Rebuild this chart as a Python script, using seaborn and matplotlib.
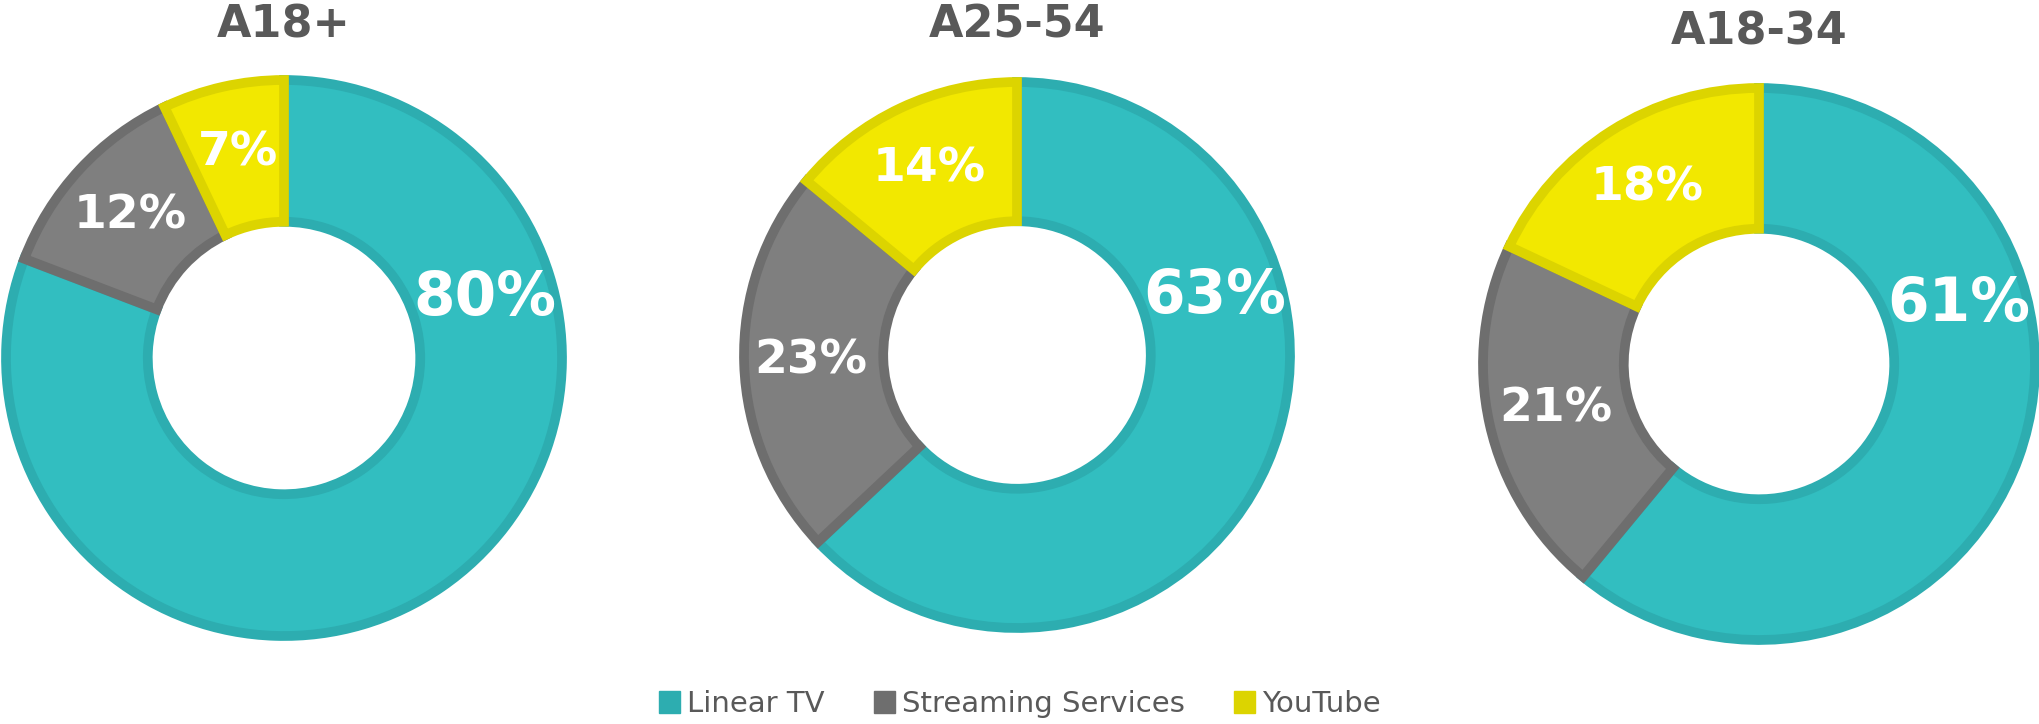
import numpy as np
import matplotlib
matplotlib.use("Agg")
import matplotlib.pyplot as plt
from matplotlib.patches import Patch
import seaborn as sns

# Data
groups = ['A18+', 'A25-54', 'A18-34']
platforms = ['Linear TV', 'Streaming Services', 'YouTube']
linear_tv = [80, 63, 61]
streaming = [12, 23, 21]
youtube = [7, 14, 18]

sns.set_theme(style="white")
plt.rcParams['font.family'] = ['DejaVu Sans']

fill_colors = sns.color_palette(['#32BEC0', '#7F7F7F', '#F2E800'])
edge_colors = sns.color_palette(['#2DADB0', '#6E6E6E', '#DCD400'])
text_grey = '#595959'

W, H = 2040, 724
fig = plt.figure(figsize=(W / 100, H / 100), dpi=100)

# donut centres / radii in pixels (x from left, y from top)
centres = [(284, 358, 278), (1017, 355, 273), (1759, 364, 276)]
title_y = [25, 25, 32]
hole = 0.49
ring_mid = (1 + hole) / 2 + 0.01
big_label_angle = 16.5  # where the large wedge's label sits

for i, grp in enumerate(groups):
    cx, cy, r = centres[i]
    ax = fig.add_axes([(cx - r) / W, (H - cy - r) / H, 2 * r / W, 2 * r / H])
    vals = [linear_tv[i], streaming[i], youtube[i]]
    wedges, _ = ax.pie(vals, startangle=90, counterclock=False,
                       colors=fill_colors, radius=1,
                       wedgeprops=dict(width=1 - hole, linewidth=7))
    for w, ec in zip(wedges, edge_colors):
        w.set_edgecolor(ec)
        w.set_clip_on(False)
    ax.set_xlim(-1, 1)
    ax.set_ylim(-1, 1)
    ax.set_aspect('equal')
    ax.axis('off')

    # labels
    for j, w in enumerate(wedges):
        if j == 0:
            ang = np.deg2rad(big_label_angle)
            size = 43
        else:
            ang = np.deg2rad((w.theta1 + w.theta2) / 2)
            size = 34
        ax.text(ring_mid * np.cos(ang), ring_mid * np.sin(ang), f'{vals[j]}%',
                ha='center', va='center', color='white', fontsize=size,
                fontweight='bold', clip_on=False)

    fig.text(cx / W, 1 - title_y[i] / H, grp, ha='center', va='center',
             fontsize=32, fontweight='bold', color=text_grey)

handles = [Patch(facecolor=c, edgecolor=c) for c in edge_colors]
fig.legend(handles, platforms, loc='center', bbox_to_anchor=(0.5, 1 - 704 / H),
           ncol=3, frameon=False, fontsize=21, handlelength=0.7,
           handleheight=0.8, handletextpad=0.25, columnspacing=1.7,
           labelcolor=text_grey)

fig.savefig('out.png', dpi=100)
